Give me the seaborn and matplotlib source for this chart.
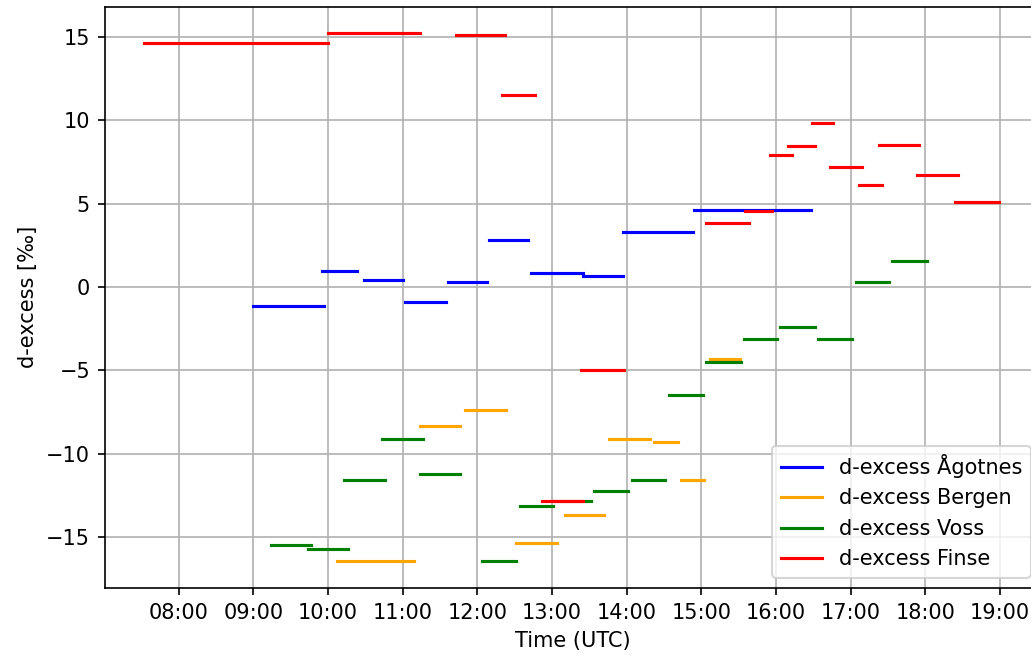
import matplotlib
matplotlib.use("Agg")
import matplotlib.pyplot as plt
import matplotlib.dates as mdates
import pandas as pd
import seaborn as sns

DAY = "2022-06-01"

# Measurement intervals (UTC) and mean d-excess per interval for each station
agotnes_start = ["09:00", "09:55", "10:29", "11:02", "11:36", "12:09", "12:43", "13:25", "13:57", "14:54"]
agotnes_end = ["09:57", "10:23", "11:00", "11:35", "12:08", "12:41", "13:25", "13:57", "14:53", "16:28"]
agotnes_dex = [-1.14, 0.94, 0.40, -0.88, 0.30, 2.84, 0.84, 0.66, 3.32, 4.64]

bergen_start = ["10:07", "11:14", "11:50", "12:31", "13:10", "13:46", "14:22", "14:44", "15:07"]
bergen_end = ["11:09", "11:46", "12:23", "13:04", "13:42", "14:19", "14:41", "15:02", "15:31"]
bergen_dex = [-16.45, -8.31, -7.39, -15.37, -13.65, -9.11, -9.29, -11.57, -4.30]

voss_start = ["09:14", "09:44", "10:13", "10:43", "11:14", "12:04", "12:34", "13:01", "13:34",
              "14:04", "14:34", "15:04", "15:34", "16:03", "16:34", "17:04", "17:33"]
voss_end = ["09:46", "10:16", "10:46", "11:16", "11:46", "12:31", "13:01", "13:31", "14:01",
            "14:31", "15:01", "15:32", "16:01", "16:31", "17:01", "17:31", "18:01"]
voss_dex = [-15.45, -15.73, -11.57, -9.11, -11.21, -16.45, -13.11, -12.83, -12.21,
            -11.57, -6.49, -4.50, -3.14, -2.42, -3.14, 0.32, 1.58]

finse_start = ["07:32", "10:00", "11:43", "12:20", "12:52", "13:23", "15:04", "15:35", "15:55",
               "16:10", "16:29", "16:43", "17:07", "17:23", "17:53", "18:24"]
finse_end = ["10:00", "11:14", "12:22", "12:46", "13:25", "13:58", "15:38", "15:57", "16:13",
             "16:31", "16:46", "17:09", "17:25", "17:55", "18:26", "18:59"]
finse_dex = [14.63, 15.25, 15.09, 11.53, -12.83, -4.96, 3.86, 4.57, 7.91,
             8.45, 9.81, 7.19, 6.12, 8.53, 6.73, 5.10]

stations = [
    ("d-excess Ågotnes", agotnes_start, agotnes_end, agotnes_dex),
    ("d-excess Bergen", bergen_start, bergen_end, bergen_dex),
    ("d-excess Voss", voss_start, voss_end, voss_dex),
    ("d-excess Finse", finse_start, finse_end, finse_dex),
]
palette = {
    "d-excess Ågotnes": "blue",
    "d-excess Bergen": "orange",
    "d-excess Voss": "green",
    "d-excess Finse": "red",
}

# Long-form table: each interval becomes a two-point segment
rows = []
seg = 0
for name, starts, ends, vals in stations:
    for s, e, v in zip(starts, ends, vals):
        rows.append({"time": pd.Timestamp(f"{DAY} {s}"), "dex": v, "station": name, "seg": seg})
        rows.append({"time": pd.Timestamp(f"{DAY} {e}"), "dex": v, "station": name, "seg": seg})
        seg += 1
df = pd.DataFrame(rows)

W, H, DPI = 1031, 657, 150
fig = plt.figure(figsize=(W / DPI, H / DPI), dpi=DPI)
ax = fig.add_axes([104.7 / W, 1 - 588 / H, (1041 - 104.7) / W, (588 - 6.7) / H])

sns.lineplot(
    data=df, x="time", y="dex", hue="station", units="seg", estimator=None,
    hue_order=list(palette.keys()), palette=palette, linewidth=1.5, ax=ax,
)

ax.set_xlim(pd.Timestamp(f"{DAY} 07:00:25"), pd.Timestamp(f"{DAY} 19:33"))
ax.set_ylim(-18.05, 16.8)
ax.xaxis.set_major_locator(mdates.HourLocator())
ax.xaxis.set_major_formatter(mdates.DateFormatter("%H:%M"))
ax.set_yticks([-15, -10, -5, 0, 5, 10, 15])
ax.grid(True, color="#b0b0b0", linewidth=0.8)
ax.set_axisbelow(True)
ax.set_xlabel("Time (UTC)")
ax.set_ylabel("d-excess [‰]")

sns.move_legend(ax, "lower right", title=None)

fig.savefig("out.png", dpi=DPI)
